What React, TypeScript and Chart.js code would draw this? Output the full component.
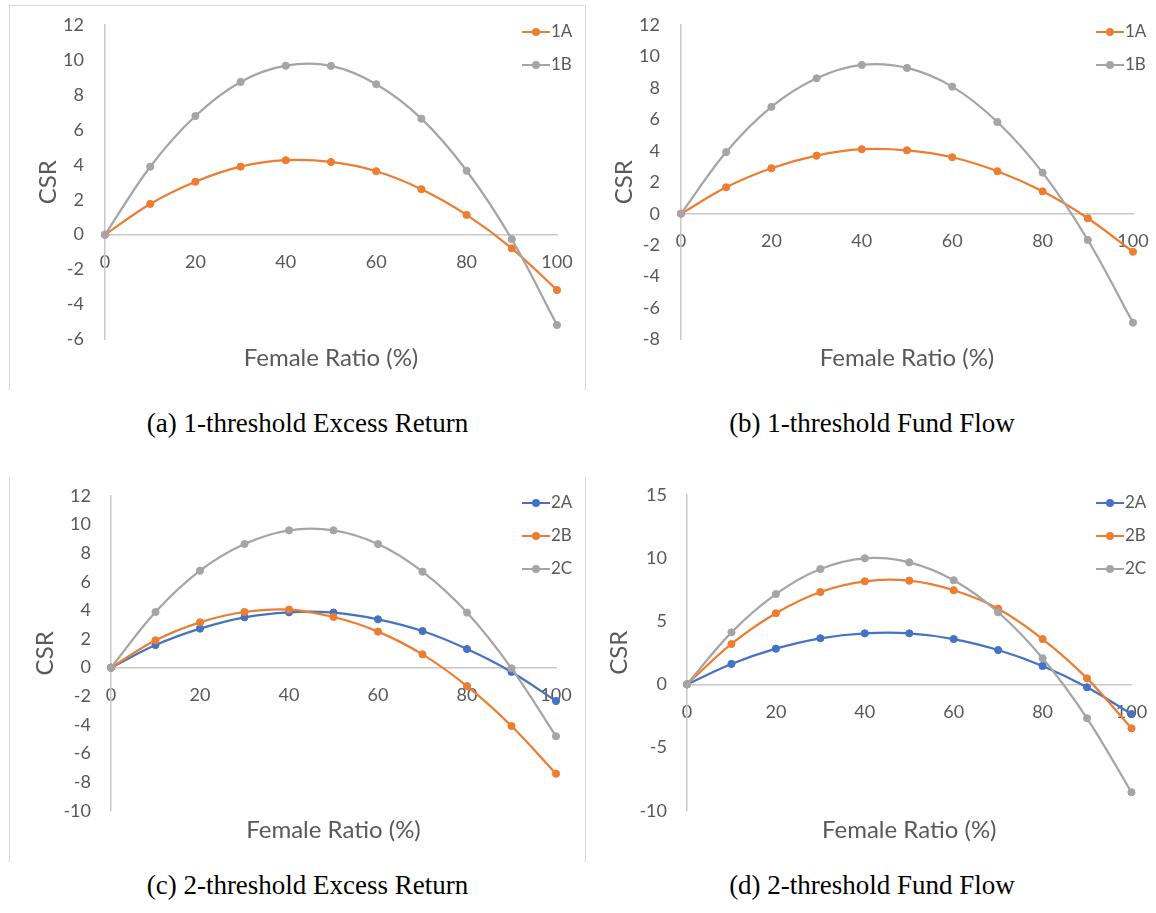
import React, { useEffect, useRef } from 'react';
import { Chart, registerables } from 'chart.js';

Chart.register(...registerables);

// ---------- data ----------
const femaleRatio = [0, 10, 20, 30, 40, 50, 60, 70, 80, 90, 100];
const xTickStep = 20;

// (a) 1-threshold Excess Return
const a1A = [0, 1.76, 3.03, 3.89, 4.26, 4.16, 3.63, 2.6, 1.13, -0.78, -3.17];
const a1B = [0, 3.89, 6.79, 8.74, 9.67, 9.66, 8.61, 6.64, 3.66, -0.26, -5.17];
// (b) 1-threshold Fund Flow
const b1A = [0, 1.68, 2.89, 3.69, 4.1, 4.03, 3.59, 2.7, 1.42, -0.29, -2.42];
const b1B = [0, 3.92, 6.79, 8.61, 9.46, 9.27, 8.08, 5.83, 2.61, -1.67, -6.93];
// (c) 2-threshold Excess Return
const c2A = [0, 1.58, 2.73, 3.52, 3.87, 3.85, 3.38, 2.56, 1.3, -0.3, -2.33];
const c2B = [0, 1.91, 3.17, 3.89, 4.06, 3.54, 2.52, 0.93, -1.29, -4.08, -7.41];
const c2C = [0, 3.89, 6.78, 8.64, 9.6, 9.6, 8.64, 6.71, 3.85, -0.05, -4.8];
// (d) 2-threshold Fund Flow
const d2A = [0, 1.61, 2.82, 3.64, 4.03, 4.03, 3.58, 2.71, 1.45, -0.24, -2.35];
const d2B = [0, 3.19, 5.62, 7.3, 8.15, 8.2, 7.44, 5.98, 3.58, 0.47, -3.48];
const d2C = [0, 4.11, 7.14, 9.12, 9.97, 9.65, 8.23, 5.7, 2.06, -2.69, -8.54];

const yTitle = 'CSR';
const xTitle = 'Female Ratio (%)';

// ---------- styles ----------
const ORANGE = '#ED7D31';
const GRAY = '#A5A5A5';
const BLUE = '#4472C4';
const TEXT = '#595959';
const AXIS = '#C8C8C8';
const FRAME = '#D9D9D9';
const FONT = "Lato, 'Open Sans', sans-serif";
const TITLE_LH = 1.2;
const TITLE_SIZE = 24;
const TICK_SIZE = 18;
const LEGEND_SIZE = 17;
const LEGEND_PAD = 16;
const LEGEND_PSW = 13;

type Series = { label: string; data: number[]; color: string };
type PanelCfg = {
  left: number; top: number; width: number; height: number;
  chartLeft: number; chartRight: number; chartTop: number; chartBottom: number;
  tickPad: number; yTitleX: number; xTitleY: number;
  legendX: number; legendY: number;
  yMin: number; yMax: number; yStep: number;
  series: Series[];
  caption: string; capX: number; capY: number;
};

const PANELS: PanelCfg[] = [
  {
    left: 10, top: 0, width: 575, height: 390,
    chartLeft: 105, chartRight: 557, chartTop: 25, chartBottom: 339.5,
    tickPad: 21, yTitleX: 48, xTitleY: 358.5, legendX: 521, legendY: 32,
    yMin: -6, yMax: 12, yStep: 2,
    series: [
      { label: '1A', data: a1A, color: ORANGE },
      { label: '1B', data: a1B, color: GRAY },
    ],
    caption: '(a) 1-threshold Excess Return', capX: 307.5, capY: 423,
  },
  {
    left: 586, top: 0, width: 570, height: 390,
    chartLeft: 681, chartRight: 1133, chartTop: 25, chartBottom: 339.5,
    tickPad: 21, yTitleX: 624, xTitleY: 358.5, legendX: 1095, legendY: 32,
    yMin: -8, yMax: 12, yStep: 2,
    series: [
      { label: '1A', data: b1A, color: ORANGE },
      { label: '1B', data: b1B, color: GRAY },
    ],
    caption: '(b) 1-threshold Fund Flow', capX: 872, capY: 423,
  },
  {
    left: 10, top: 471, width: 575, height: 390,
    chartLeft: 111, chartRight: 556, chartTop: 496, chartBottom: 810.7,
    tickPad: 20, yTitleX: 45, xTitleY: 830, legendX: 521, legendY: 503,
    yMin: -10, yMax: 12, yStep: 2,
    series: [
      { label: '2A', data: c2A, color: BLUE },
      { label: '2B', data: c2B, color: ORANGE },
      { label: '2C', data: c2C, color: GRAY },
    ],
    caption: '(c) 2-threshold Excess Return', capX: 307.5, capY: 885,
  },
  {
    left: 586, top: 471, width: 570, height: 390,
    chartLeft: 687, chartRight: 1131.5, chartTop: 494.7, chartBottom: 810.7,
    tickPad: 20, yTitleX: 619, xTitleY: 830, legendX: 1095, legendY: 503,
    yMin: -10, yMax: 15, yStep: 5,
    series: [
      { label: '2A', data: d2A, color: BLUE },
      { label: '2B', data: d2B, color: ORANGE },
      { label: '2C', data: d2C, color: GRAY },
    ],
    caption: '(d) 2-threshold Fund Flow', capX: 872, capY: 885,
  },
];

function makeMarker(color: string): HTMLCanvasElement {
  const c = document.createElement('canvas');
  c.width = 30;
  c.height = 10;
  const ctx = c.getContext('2d')!;
  ctx.strokeStyle = color;
  ctx.lineWidth = 2;
  ctx.beginPath();
  ctx.moveTo(1, 5);
  ctx.lineTo(29, 5);
  ctx.stroke();
  ctx.fillStyle = color;
  ctx.beginPath();
  ctx.arc(15, 5, 4, 0, Math.PI * 2);
  ctx.fill();
  return c;
}

// Places the Chart.js legend (laid out in the chart area) at the marker position of the reference
const legendMover = {
  id: 'legendMover',
  afterLayout(chart: any, _args: any, opts: any) {
    const lg = chart.legend;
    if (!lg) return;
    const boxX = opts.x + 15 - LEGEND_PSW / 2;
    lg.left = boxX - LEGEND_PAD;
    lg.top = opts.y - LEGEND_SIZE / 2 - LEGEND_PAD;
    lg.right = lg.left + lg.width;
  },
};

function Panel({ cfg }: { cfg: PanelCfg }) {
  const ref = useRef<HTMLCanvasElement | null>(null);
  useEffect(() => {
    if (!ref.current) return;
    const yWidth = cfg.chartLeft - cfg.left;
    const padRight = cfg.left + cfg.width - cfg.chartRight;
    const padTop = cfg.chartTop - cfg.top;
    const lh = TITLE_SIZE * TITLE_LH;
    const xtPadTop = cfg.xTitleY - cfg.chartBottom - lh / 2;
    const xtPadBottom = cfg.top + cfg.height - cfg.chartBottom - xtPadTop - lh;
    const ytPadTop = cfg.yTitleX - cfg.left - lh / 2;
    const markers = cfg.series.map((s) => makeMarker(s.color));
    const n = cfg.series.length;

    const chart = new Chart(ref.current, {
      type: 'line',
      data: {
        datasets: cfg.series.map((s, i) => ({
          label: s.label,
          data: femaleRatio.map((x, j) => ({ x, y: s.data[j] })),
          borderColor: s.color,
          backgroundColor: s.color,
          pointBackgroundColor: s.color,
          pointBorderColor: s.color,
          borderWidth: 2.25,
          pointRadius: 3.6,
          pointBorderWidth: 1,
          tension: 0.35,
          fill: false,
          clip: false as any,
          order: n - 1 - i,
        })),
      },
      plugins: [legendMover],
      options: {
        responsive: false,
        animation: false,
        devicePixelRatio: 1,
        events: [],
        layout: {
          autoPadding: false,
          padding: { left: 0, top: padTop, right: padRight, bottom: 0 },
        },
        scales: {
          x: {
            type: 'linear',
            position: { y: 0 } as any,
            min: 0,
            max: 100,
            ticks: {
              stepSize: xTickStep,
              padding: 17,
              maxRotation: 0,
              autoSkip: false,
              color: TEXT,
              font: { family: FONT, size: TICK_SIZE },
            },
            grid: { display: false, drawTicks: false },
            border: { display: true, color: AXIS, width: 1.5 },
            afterFit: (s: any) => {
              s.paddingLeft = 0;
              s.paddingRight = 0;
              s.paddingTop = 0;
              s.paddingBottom = 0;
            },
          },
          y: {
            type: 'linear',
            position: 'left',
            min: cfg.yMin,
            max: cfg.yMax,
            ticks: {
              stepSize: cfg.yStep,
              padding: cfg.tickPad,
              color: TEXT,
              font: { family: FONT, size: TICK_SIZE },
            },
            grid: { display: false, drawTicks: false },
            border: { display: true, color: AXIS, width: 1.5 },
            title: {
              display: true,
              text: yTitle,
              color: TEXT,
              font: { family: FONT, size: TITLE_SIZE, lineHeight: TITLE_LH },
              padding: { top: ytPadTop, bottom: 0 },
            },
            afterFit: (s: any) => {
              s.width = yWidth;
              s.paddingTop = 0;
              s.paddingBottom = 0;
            },
          },
        },
        plugins: {
          tooltip: { enabled: false },
          title: {
            display: true,
            text: xTitle,
            position: 'bottom',
            fullSize: false,
            align: 'center',
            color: TEXT,
            font: { family: FONT, size: TITLE_SIZE, weight: 'normal', lineHeight: TITLE_LH },
            padding: { top: xtPadTop, bottom: xtPadBottom },
          },
          legend: {
            display: true,
            position: 'chartArea' as any,
            align: 'start',
            labels: {
              usePointStyle: true,
              pointStyleWidth: LEGEND_PSW,
              boxHeight: LEGEND_SIZE,
              padding: LEGEND_PAD,
              color: TEXT,
              font: { family: FONT, size: LEGEND_SIZE },
              sort: (a: any, b: any) => a.datasetIndex - b.datasetIndex,
              generateLabels: (ch: any) => {
                const items = (Chart.defaults.plugins.legend.labels.generateLabels as any)(ch);
                return items.map((it: any) => ({ ...it, pointStyle: markers[it.datasetIndex] }));
              },
            },
          },
          legendMover: { x: cfg.legendX - cfg.left, y: cfg.legendY - cfg.top },
        } as any,
      },
    } as any);
    return () => chart.destroy();
  }, [cfg]);

  return (
    <canvas
      ref={ref}
      width={cfg.width}
      height={cfg.height}
      style={{ position: 'absolute', left: cfg.left, top: cfg.top, width: cfg.width, height: cfg.height }}
    />
  );
}

function Line({ x, y, w, h }: { x: number; y: number; w: number; h: number }) {
  return <div style={{ position: 'absolute', left: x, top: y, width: w, height: h, background: FRAME }} />;
}

export default function App() {
  return (
    <div style={{ position: 'absolute', left: 0, top: 0, width: 1156, height: 913, background: '#fff', overflow: 'hidden' }}>
      {/* panel frames */}
      <Line x={9} y={5} w={577} h={1} />
      <Line x={9} y={5} w={1} h={385} />
      <Line x={585} y={5} w={1} h={385} />
      <Line x={9} y={477} w={1} h={385} />
      <Line x={585} y={477} w={1} h={385} />
      {PANELS.map((p, i) => (
        <Panel key={i} cfg={p} />
      ))}
      {PANELS.map((p, i) => (
        <div
          key={'c' + i}
          style={{
            position: 'absolute',
            left: p.capX,
            top: p.capY,
            transform: 'translate(-50%, -50%)',
            whiteSpace: 'nowrap',
            fontFamily: "'Liberation Serif', 'DejaVu Serif', serif",
            fontSize: 27,
            lineHeight: '32px',
            color: '#000',
          }}
        >
          {p.caption}
        </div>
      ))}
    </div>
  );
}
